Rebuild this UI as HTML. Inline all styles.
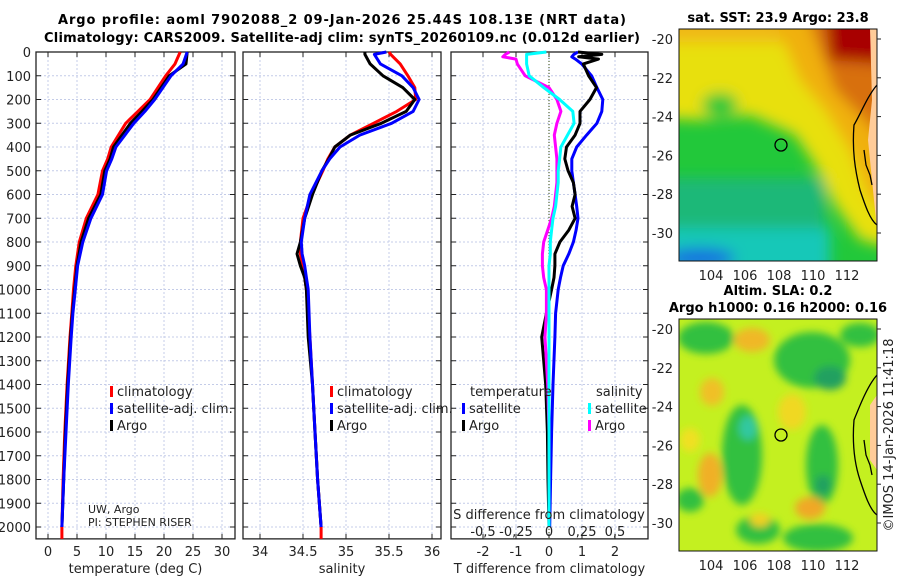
<!DOCTYPE html>
<html><head><meta charset="utf-8"><style>
html,body{margin:0;padding:0;background:#fff}
svg{display:block;font-family:"DejaVu Sans","Liberation Sans",sans-serif}
.t{font-size:13px;fill:#222}
.b{font-weight:bold;font-size:13px;fill:#000}
</style></head><body>
<svg id="c" width="900" height="580" viewBox="0 0 900 580">
<defs>
<filter id="bl" x="-20%" y="-20%" width="140%" height="140%"><feGaussianBlur stdDeviation="7"/></filter>
<filter id="bl2" x="-20%" y="-20%" width="140%" height="140%"><feGaussianBlur stdDeviation="4"/></filter>
<clipPath id="m1"><rect x="679" y="29" width="198" height="232"/></clipPath>
<clipPath id="m2"><rect x="679" y="319" width="198" height="232"/></clipPath>
</defs>
<text x="342" y="24" text-anchor="middle" class="b" textLength="568">Argo profile: aoml 7902088_2 09-Jan-2026 25.44S 108.13E (NRT data)</text>
<text x="342" y="42" text-anchor="middle" class="b" textLength="596">Climatology: CARS2009. Satellite-adj clim: synTS_20260109.nc (0.012d earlier)</text>

<!-- SST map -->
<g>
<text x="778" y="22" text-anchor="middle" class="b">sat. SST: 23.9 Argo: 23.8</text>
<g clip-path="url(#m1)">
<rect x="679" y="29" width="198" height="232" fill="#22c83a"/>
<g filter="url(#bl)">
<polygon points="660,10 900,10 900,250 860,240 835,205 815,165 795,135 750,115 700,120 660,118" fill="#e8e010"/>
<rect x="660" y="10" width="140" height="32" fill="#f0b818"/>
<polygon points="770,10 900,10 900,220 870,200 850,150 825,110 800,80" fill="#f0b010"/>
<polygon points="805,10 900,10 900,160 865,120 835,90" fill="#d87010"/>
<polygon points="825,10 900,10 900,65 830,60" fill="#a80000"/>
<ellipse cx="720" cy="105" rx="18" ry="12" fill="#22c83a"/>
<rect x="660" y="178" width="165" height="100" fill="#1cb878"/>
<rect x="660" y="228" width="170" height="60" fill="#18c8b8"/>
<ellipse cx="700" cy="258" rx="35" ry="10" fill="#1870e0"/>
</g>
<polygon points="870,29 877,29 877,230 872,180 868,140 872,100" fill="#ffcc99"/>
<path d="M877,85 C868,95 860,115 854,125 C852,150 855,170 860,190 C865,205 870,220 877,225" fill="none" stroke="#000" stroke-width="1.3"/>
<path d="M864,150 L866,165 L870,175 L872,185" fill="none" stroke="#000" stroke-width="1.3"/>
</g>
<rect x="679" y="29" width="198" height="232" fill="none" stroke="#111" stroke-width="1"/>
<circle cx="781" cy="145" r="6" fill="none" stroke="#000" stroke-width="1.3"/>
</g>

<!-- SLA map -->
<g>
<text x="778" y="295" text-anchor="middle" class="b">Altim. SLA: 0.2</text>
<text x="778" y="312" text-anchor="middle" class="b">Argo h1000: 0.16 h2000: 0.16</text>
<g clip-path="url(#m2)">
<rect x="679" y="319" width="198" height="232" fill="#c4f020"/>
<g filter="url(#bl2)">
<ellipse cx="706" cy="338" rx="28" ry="16" fill="#30c040"/>
<ellipse cx="812" cy="360" rx="38" ry="28" fill="#30c040"/>
<ellipse cx="860" cy="335" rx="20" ry="12" fill="#30c040"/>
<ellipse cx="742" cy="455" rx="20" ry="50" fill="#30c040"/>
<ellipse cx="822" cy="465" rx="16" ry="40" fill="#30c040"/>
<ellipse cx="818" cy="538" rx="35" ry="14" fill="#30c040"/>
<ellipse cx="690" cy="500" rx="14" ry="12" fill="#30c040"/>
<ellipse cx="758" cy="530" rx="22" ry="14" fill="#30c040"/>
<ellipse cx="830" cy="378" rx="16" ry="12" fill="#20a060"/>
<ellipse cx="748" cy="428" rx="9" ry="12" fill="#30c8a0"/>
<ellipse cx="823" cy="485" rx="8" ry="10" fill="#20a060"/>
<ellipse cx="752" cy="340" rx="18" ry="12" fill="#f0b828"/>
<ellipse cx="712" cy="392" rx="12" ry="14" fill="#f0c028"/>
<ellipse cx="710" cy="475" rx="12" ry="22" fill="#f0b028"/>
<ellipse cx="810" cy="508" rx="15" ry="11" fill="#f0a828"/>
<ellipse cx="792" cy="412" rx="14" ry="18" fill="#f0d820"/>
<ellipse cx="690" cy="440" rx="10" ry="12" fill="#f0e020"/>
<ellipse cx="760" cy="520" rx="10" ry="7" fill="#f0d020"/>
</g>
<polygon points="870,405 877,395 877,470 870,460" fill="#ffcc99"/>
<path d="M877,375 C868,385 860,405 854,420 C852,445 855,465 860,480 C865,495 870,510 877,515" fill="none" stroke="#000" stroke-width="1.3"/>
<path d="M864,440 L866,455 L870,465 L872,475" fill="none" stroke="#000" stroke-width="1.3"/>
</g>
<rect x="679" y="319" width="198" height="232" fill="none" stroke="#111" stroke-width="1"/>
<circle cx="781" cy="435" r="6" fill="none" stroke="#000" stroke-width="1.3"/>
</g>
<text transform="translate(893,435) rotate(-90)" text-anchor="middle" class="t">©IMOS 14-Jan-2026 11:41:18</text>
<g id="plots"></g>
</svg>
<script>
// ---- data ----
const pressureTicks = [0,100,200,300,400,500,600,700,800,900,1000,1100,1200,1300,1400,1500,1600,1700,1800,1900,2000];
const tempTicks = [0,5,10,15,20,25,30];
const salTicks = [34,34.5,35,35.5,36];
const salTickLabels = ["34","34.5","35","35.5","36"];
const dTTicks = [-2,-1,0,1,2];
const dSTicks = [-0.5,-0.25,0,0.25,0.5];
const dSTickLabels = ["-0,5","-0,25","0","0,25","0,5"];

const tempDepths = [0,50,100,200,250,300,400,450,500,600,700,800,900,1000,1100,1200,1400,1600,1800,2000];
const tempClim = [22.8,21.9,20.3,17.6,15.5,13.4,10.9,10.3,9.4,8.6,6.6,5.4,4.8,4.4,4.1,3.8,3.3,2.9,2.6,2.4];
const tempSat  = [24.0,23.3,21.2,18.4,16.7,14.8,11.7,11.0,10.1,9.4,7.4,6.0,5.1,4.7,4.3,4.0,3.5,3.1,2.7,2.4];
const tempArgo = [24.0,23.8,20.9,18.1,16.2,14.2,11.3,10.7,9.8,9.1,7.0,5.7,5.0,4.6,4.2,3.9,3.4,3.0,2.7,2.4];

const salDepths = [0,10,50,100,150,200,250,300,350,400,450,500,600,700,800,850,900,950,1000,1200,1400,1600,1800,2000];
const salClim = [35.50,35.52,35.63,35.72,35.80,35.81,35.59,35.32,35.05,34.87,34.79,34.73,34.60,34.50,34.47,34.47,34.50,34.52,34.54,34.58,34.61,34.64,34.67,34.71];
const salSat  = [35.47,35.33,35.40,35.65,35.78,35.85,35.78,35.53,35.16,34.93,34.81,34.72,34.58,34.52,34.48,34.49,34.52,34.54,34.56,34.58,34.61,34.64,34.67,34.71];
const salArgo = [35.22,35.22,35.28,35.43,35.66,35.80,35.70,35.41,35.05,34.87,34.80,34.72,34.61,34.52,34.47,34.43,34.47,34.52,34.54,34.56,34.61,34.64,34.67,34.71];

const diffDepths = [0,10,20,30,50,100,150,200,250,300,350,400,450,500,550,600,650,700,750,800,850,900,950,1000,1100,1200,1400,1600,1800,2000];
const dTSat  = [0.88,0.75,0.69,0.8,0.99,1.29,1.45,1.63,1.6,1.45,1.14,0.84,0.69,0.69,0.74,0.79,0.84,0.88,0.82,0.74,0.6,0.43,0.35,0.28,0.2,0.18,0.12,0.08,0.05,0.02];
const dTArgo = [0.88,1.6,0.9,1.5,1.04,1.2,1.44,1.24,0.94,0.94,0.79,0.53,0.48,0.58,0.74,0.79,0.7,0.79,0.6,0.33,0.18,0.18,0.15,0.08,-0.08,-0.22,-0.1,-0.05,-0.03,0];
const dSSat  = [-0.02,-0.17,-0.17,-0.17,-0.17,-0.15,-0.04,0.08,0.18,0.19,0.14,0.09,0.08,0.07,0.07,0.06,0.05,0.03,0.02,0.01,0.01,0,0,0,0,0,0,0,0,0];
const dSArgo = [-0.3,-0.33,-0.35,-0.25,-0.24,-0.18,0.0,0.06,0.09,0.06,0.04,0.05,0.06,0.06,0.06,0.05,0.04,0.02,-0.01,-0.04,-0.05,-0.05,-0.04,-0.02,-0.02,-0.03,-0.01,0,0,0];

const mapLatTicks = [-20,-22,-24,-26,-28,-30];
const mapLonTicks = [104,106,108,110,112];

// ---- scales ----
const NS = "http://www.w3.org/2000/svg";
const Y = p => 52 + p * 0.2375;
const xT = v => 48 + v * 5.8;
const xS = v => 260 + (v - 34) * 86;
const xdT = v => 549 + v * 33;
const xdS = v => 549 + v * 132;
const lonX = v => 711 + (v - 104) * 17;
const latY = v => 39 + (-20 - v) * 19.4;
const root = document.getElementById('plots');

function mk(tag, attrs, parent) {
  const e = document.createElementNS(NS, tag);
  for (const k in attrs) e.setAttribute(k, attrs[k]);
  (parent || root).appendChild(e);
  return e;
}
function txt(x, y, s, anchor, size) {
  const e = mk('text', {x: x, y: y, 'text-anchor': anchor || 'middle', 'font-size': size || 13, fill: '#222'});
  e.textContent = s;
  return e;
}

const panels = [
  {x0: 36, x1: 235, ticks: tempTicks, labels: tempTicks.map(String), sx: xT, title: 'temperature (deg C)', name: 'temperature'},
  {x0: 243, x1: 441, ticks: salTicks, labels: salTickLabels, sx: xS, title: 'salinity', name: 'salinity'},
  {x0: 451, x1: 648, ticks: dTTicks, labels: dTTicks.map(String), sx: xdT, title: 'T difference from climatology', name: 'difference'}
];
const yTop = 52, yBot = Y(2050);

panels.forEach((p, i) => {
  const g = mk('g', {});
  
  
  p.ticks.forEach(t => {
    const l = mk('line', {x1: p.sx(t), x2: p.sx(t), y1: yTop, y2: yBot, stroke: '#c4cce8', 'stroke-width': 1, 'stroke-dasharray': '2,2'}, g);
    
    
  });
  pressureTicks.forEach(t => {
    const l = mk('line', {x1: p.x0, x2: p.x1, y1: Y(t), y2: Y(t), stroke: '#c4cce8', 'stroke-width': 1, 'stroke-dasharray': '2,2'}, g);
    
    
    mk('line', {x1: p.x0, x2: p.x0 + 5, y1: Y(t), y2: Y(t), stroke: '#222'}, g);
    mk('line', {x1: p.x1 - 5, x2: p.x1, y1: Y(t), y2: Y(t), stroke: '#222'}, g);
  });
  p.ticks.forEach((t, k) => {
    mk('line', {x1: p.sx(t), x2: p.sx(t), y1: yBot, y2: yBot - 5, stroke: '#222'}, g);
    mk('line', {x1: p.sx(t), x2: p.sx(t), y1: yTop, y2: yTop + 5, stroke: '#222'}, g);
    const lb = txt(p.sx(t), 556, p.labels[k]);
    
    
  });
  const at = txt((p.x0 + p.x1) / 2, 573, p.title);
  
  
  const fr = mk('rect', {x: p.x0, y: yTop, width: p.x1 - p.x0, height: yBot - yTop, fill: 'none', stroke: '#222', 'stroke-width': 1.3}, g);
  
  
});

pressureTicks.forEach(t => {
  const e = txt(31, Y(t) + 5, String(t), 'end');
  
  
});

function line(depths, vals, sx, color, name, w) {
  const d = depths.map((p, i) => (i ? 'L' : 'M') + sx(vals[i]).toFixed(1) + ',' + Y(p).toFixed(1)).join('');
  const e = mk('path', {d: d, fill: 'none', stroke: color, 'stroke-width': w || 3, 'stroke-linejoin': 'round'});
  
  
}
line([2000, 2050], [tempClim[tempClim.length - 1], tempClim[tempClim.length - 1]], xT, '#ff0000', 'temp-clim-tail');
line(tempDepths, tempClim, xT, '#ff0000', 'temp-climatology-line');
line(tempDepths, tempArgo, xT, '#000000', 'temp-argo-line');
line(tempDepths, tempSat, xT, '#0000ff', 'temp-satellite-line');
line([2000, 2050], [salClim[salClim.length - 1], salClim[salClim.length - 1]], xS, '#ff0000', 'sal-clim-tail');
line(salDepths, salClim, xS, '#ff0000', 'sal-climatology-line');
line(salDepths, salArgo, xS, '#000000', 'sal-argo-line');
line(salDepths, salSat, xS, '#0000ff', 'sal-satellite-line');
const zl = mk('line', {x1: xdT(0), x2: xdT(0), y1: yTop, y2: yBot, stroke: '#556633', 'stroke-dasharray': '1,2', 'stroke-width': 1.2});


line(diffDepths, dTSat, xdT, '#0000ff', 'dT-satellite-line');
line(diffDepths, dTArgo, xdT, '#000000', 'dT-argo-line');
line(diffDepths, dSArgo, xdS, '#ff00ff', 'dS-argo-line');
line(diffDepths, dSSat, xdS, '#00ffff', 'dS-satellite-line');

const sat = txt(549, 519, 'S difference from climatology');


dSTicks.forEach((t, k) => {
  const e = txt(xdS(t), 536, dSTickLabels[k]);
  
  
});

function legItem(x, y, color, label, name) {
  const r = mk('rect', {x: x, y: y - 10, width: 3, height: 11, fill: color});
  
  
  const t = txt(x + 7, y, label, 'start');
  
  
}
legItem(110, 396, '#ff0000', 'climatology', 'legend-t-climatology');
legItem(110, 413, '#0000ff', 'satellite-adj. clim.', 'legend-t-satellite');
legItem(110, 430, '#000000', 'Argo', 'legend-t-argo');
legItem(330, 396, '#ff0000', 'climatology', 'legend-s-climatology');
legItem(330, 413, '#0000ff', 'satellite-adj. clim.', 'legend-s-satellite');
legItem(330, 430, '#000000', 'Argo', 'legend-s-argo');
const lt = txt(470, 396, 'temperature', 'start');


const ls = txt(596, 396, 'salinity', 'start');


legItem(462, 413, '#0000ff', 'satellite', 'legend-dt-satellite');
legItem(462, 430, '#000000', 'Argo', 'legend-dt-argo');
legItem(588, 413, '#00ffff', 'satellite', 'legend-ds-satellite');
legItem(588, 430, '#ff00ff', 'Argo', 'legend-ds-argo');

const pi1 = txt(88, 513, 'UW, Argo', 'start', 11);


const pi2 = txt(88, 526, 'PI: STEPHEN RISER', 'start', 11);



[0, 290].forEach(off => {
  mapLatTicks.forEach(t => {
    const e = txt(673, latY(t) + off + 5, String(t), 'end');
    
    
    mk('line', {x1: 877, x2: 881, y1: latY(t) + off, y2: latY(t) + off, stroke: '#222'});
  });
  mapLonTicks.forEach(t => {
    const e = txt(lonX(t), 280 + off, String(t));
    
    
  });
});
</script>
</body></html>
